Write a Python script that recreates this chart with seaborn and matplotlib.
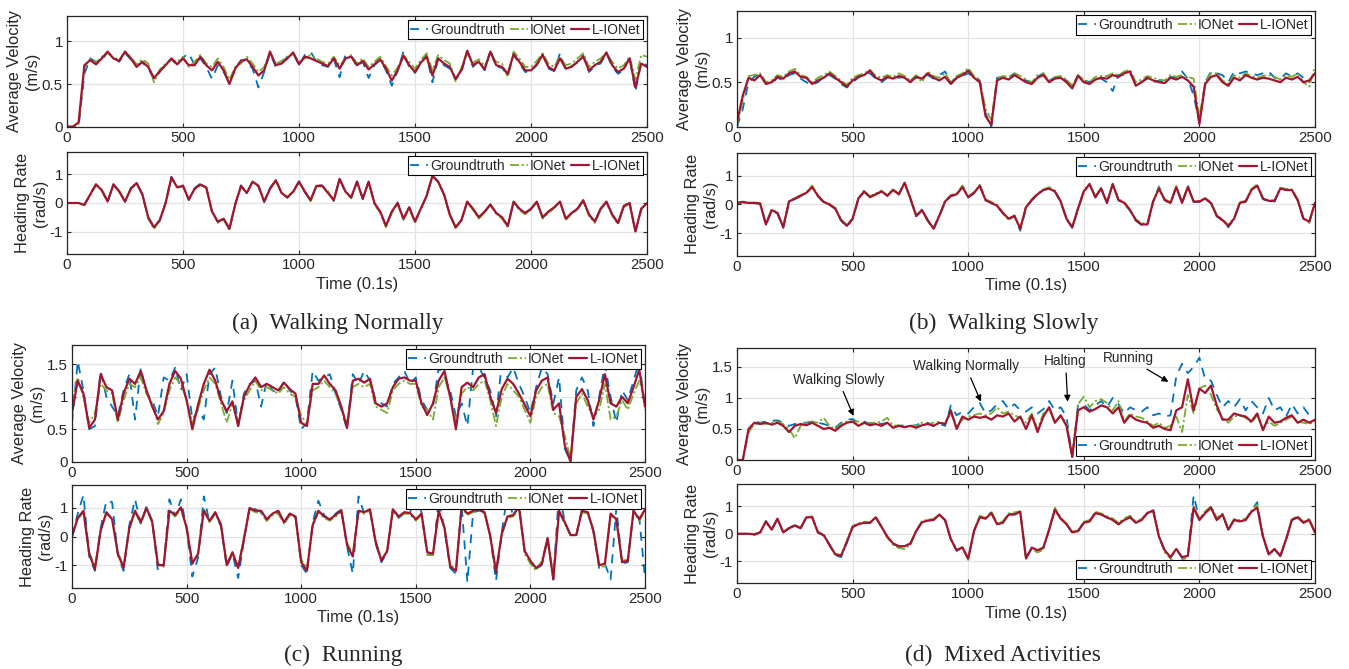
import numpy as np
import pandas as pd
import seaborn as sns
import matplotlib.pyplot as plt

# sampling grid (0.1 s units), values read every 25 samples from the figure
time_steps = list(range(0, 2501, 25))
series_names = ["Groundtruth", "IONet", "L-IONet"]

# (a) Walking Normally
walk_vel_gt = [
    0.00, 0.00, 0.00, 0.62, 0.80, 0.76, 0.78, 0.87, 0.82, 0.76,
    0.86, 0.79, 0.72, 0.75, 0.68, 0.56, 0.64, 0.74, 0.79, 0.72,
    0.81, 0.86, 0.72, 0.80, 0.70, 0.56, 0.72, 0.64, 0.52, 0.67,
    0.78, 0.76, 0.68, 0.46, 0.64, 0.86, 0.70, 0.74, 0.82, 0.86,
    0.72, 0.84, 0.88, 0.76, 0.72, 0.70, 0.79, 0.58, 0.84, 0.83,
    0.70, 0.76, 0.57, 0.72, 0.78, 0.66, 0.48, 0.65, 0.88, 0.70,
    0.63, 0.74, 0.84, 0.52, 0.79, 0.72, 0.68, 0.55, 0.64, 0.88,
    0.70, 0.78, 0.66, 0.90, 0.70, 0.69, 0.60, 0.84, 0.74, 0.64,
    0.65, 0.72, 0.85, 0.68, 0.65, 0.86, 0.66, 0.71, 0.75, 0.84,
    0.64, 0.71, 0.74, 0.86, 0.70, 0.62, 0.66, 0.82, 0.41, 0.76,
    0.72]
walk_vel_ionet = [
    0.00, 0.00, 0.03, 0.70, 0.80, 0.75, 0.82, 0.86, 0.81, 0.79,
    0.86, 0.82, 0.73, 0.79, 0.74, 0.52, 0.67, 0.74, 0.78, 0.76,
    0.82, 0.70, 0.76, 0.84, 0.74, 0.70, 0.80, 0.70, 0.55, 0.70,
    0.74, 0.82, 0.74, 0.64, 0.70, 0.86, 0.74, 0.77, 0.82, 0.85,
    0.76, 0.80, 0.84, 0.80, 0.76, 0.74, 0.82, 0.72, 0.79, 0.84,
    0.74, 0.80, 0.70, 0.76, 0.82, 0.71, 0.60, 0.69, 0.84, 0.76,
    0.68, 0.78, 0.86, 0.66, 0.84, 0.78, 0.74, 0.53, 0.69, 0.86,
    0.75, 0.79, 0.71, 0.85, 0.76, 0.74, 0.58, 0.88, 0.80, 0.70,
    0.70, 0.77, 0.86, 0.74, 0.70, 0.82, 0.72, 0.74, 0.80, 0.86,
    0.70, 0.76, 0.80, 0.86, 0.76, 0.68, 0.72, 0.82, 0.55, 0.84,
    0.82]
walk_vel_lionet = [
    0.00, 0.00, 0.05, 0.72, 0.78, 0.73, 0.80, 0.88, 0.80, 0.77,
    0.88, 0.80, 0.70, 0.76, 0.70, 0.57, 0.65, 0.72, 0.80, 0.73,
    0.80, 0.72, 0.72, 0.82, 0.72, 0.66, 0.76, 0.66, 0.50, 0.68,
    0.77, 0.79, 0.70, 0.60, 0.66, 0.88, 0.72, 0.74, 0.80, 0.87,
    0.73, 0.82, 0.80, 0.77, 0.74, 0.71, 0.80, 0.68, 0.80, 0.82,
    0.72, 0.77, 0.67, 0.73, 0.79, 0.68, 0.54, 0.66, 0.83, 0.72,
    0.64, 0.75, 0.82, 0.60, 0.80, 0.74, 0.70, 0.56, 0.66, 0.89,
    0.72, 0.76, 0.67, 0.88, 0.72, 0.70, 0.62, 0.85, 0.76, 0.66,
    0.66, 0.73, 0.84, 0.70, 0.66, 0.80, 0.68, 0.70, 0.76, 0.82,
    0.66, 0.72, 0.76, 0.87, 0.72, 0.64, 0.68, 0.80, 0.46, 0.74,
    0.70]
walk_head_gt = [
    0.00, 0.00, 0.00, -0.06, 0.32, 0.66, 0.44, 0.03, 0.66, 0.42,
    0.04, 0.52, 0.72, 0.28, -0.52, -0.88, -0.62, 0.02, 0.92, 0.52,
    0.62, 0.10, 0.52, 0.68, 0.56, -0.32, -0.68, -0.56, -0.92, -0.04,
    0.62, 0.33, 0.78, 0.58, 0.03, 0.52, 0.82, 0.33, 0.18, 0.42,
    0.76, 0.38, 0.08, 0.62, 0.62, 0.38, 0.08, 0.86, 0.38, 0.18,
    0.76, 0.13, 0.76, -0.02, -0.32, -0.82, -0.32, 0.02, -0.56, -0.16,
    -0.66, -0.22, 0.26, 0.96, 0.74, 0.28, -0.42, -0.86, -0.62, 0.04,
    -0.22, -0.52, -0.32, -0.06, -0.36, -0.52, -0.82, 0.04, -0.22, -0.36,
    -0.22, 0.03, -0.52, -0.32, -0.16, 0.04, -0.56, -0.36, -0.22, 0.08,
    -0.42, -0.66, -0.22, 0.04, -0.42, -0.72, -0.12, -0.02, -1.02, -0.22,
    0.00]
walk_head_ionet = [
    0.00, 0.00, 0.00, -0.05, 0.28, 0.62, 0.46, 0.08, 0.62, 0.43,
    0.08, 0.48, 0.68, 0.32, -0.55, -0.92, -0.58, -0.02, 0.86, 0.57,
    0.58, 0.14, 0.48, 0.62, 0.53, -0.28, -0.70, -0.58, -0.95, -0.08,
    0.58, 0.37, 0.72, 0.62, 0.07, 0.48, 0.78, 0.36, 0.22, 0.38,
    0.73, 0.42, 0.06, 0.58, 0.58, 0.42, 0.06, 0.82, 0.42, 0.16,
    0.72, 0.17, 0.72, -0.04, -0.35, -0.85, -0.35, -0.03, -0.60, -0.20,
    -0.70, -0.18, 0.22, 0.93, 0.72, 0.32, -0.45, -0.88, -0.65, 0.02,
    -0.25, -0.55, -0.34, -0.08, -0.38, -0.55, -0.85, 0.02, -0.25, -0.40,
    -0.24, 0.02, -0.55, -0.35, -0.18, 0.02, -0.60, -0.38, -0.25, 0.06,
    -0.45, -0.70, -0.25, 0.02, -0.45, -0.75, -0.15, -0.03, -0.98, -0.25,
    -0.02]
walk_head_lionet = [
    0.00, 0.00, 0.00, -0.07, 0.30, 0.65, 0.45, 0.05, 0.65, 0.40,
    0.05, 0.50, 0.70, 0.30, -0.50, -0.85, -0.60, 0.00, 0.90, 0.55,
    0.60, 0.12, 0.50, 0.65, 0.55, -0.30, -0.65, -0.55, -0.90, -0.05,
    0.60, 0.35, 0.75, 0.60, 0.05, 0.50, 0.80, 0.35, 0.20, 0.40,
    0.75, 0.40, 0.10, 0.60, 0.60, 0.35, 0.10, 0.85, 0.40, 0.20,
    0.75, 0.15, 0.75, 0.00, -0.30, -0.80, -0.30, 0.00, -0.55, -0.15,
    -0.65, -0.20, 0.25, 0.95, 0.75, 0.30, -0.40, -0.85, -0.60, 0.05,
    -0.20, -0.50, -0.30, -0.05, -0.35, -0.50, -0.80, 0.05, -0.20, -0.35,
    -0.20, 0.05, -0.50, -0.30, -0.15, 0.05, -0.55, -0.35, -0.20, 0.10,
    -0.40, -0.65, -0.20, 0.05, -0.40, -0.70, -0.10, 0.00, -1.00, -0.20,
    0.00]

# (b) Walking Slowly
slow_vel_gt = [
    0.00, 0.20, 0.50, 0.56, 0.60, 0.50, 0.48, 0.55, 0.52, 0.58,
    0.60, 0.54, 0.50, 0.47, 0.50, 0.56, 0.58, 0.54, 0.48, 0.44,
    0.50, 0.55, 0.60, 0.60, 0.54, 0.50, 0.55, 0.56, 0.55, 0.56,
    0.52, 0.55, 0.56, 0.58, 0.54, 0.58, 0.62, 0.50, 0.54, 0.57,
    0.60, 0.56, 0.52, 0.15, 0.00, 0.55, 0.56, 0.55, 0.60, 0.55,
    0.52, 0.50, 0.56, 0.60, 0.52, 0.55, 0.56, 0.52, 0.45, 0.58,
    0.52, 0.50, 0.55, 0.54, 0.50, 0.40, 0.58, 0.58, 0.60, 0.48,
    0.50, 0.54, 0.50, 0.52, 0.50, 0.56, 0.55, 0.62, 0.54, 0.35,
    0.05, 0.50, 0.62, 0.60, 0.58, 0.50, 0.62, 0.60, 0.62, 0.60,
    0.58, 0.60, 0.62, 0.55, 0.54, 0.60, 0.56, 0.60, 0.55, 0.50,
    0.62]
slow_vel_ionet = [
    0.02, 0.30, 0.57, 0.58, 0.60, 0.50, 0.52, 0.58, 0.56, 0.62,
    0.65, 0.58, 0.56, 0.50, 0.55, 0.58, 0.62, 0.57, 0.52, 0.47,
    0.55, 0.58, 0.60, 0.64, 0.57, 0.55, 0.58, 0.56, 0.60, 0.57,
    0.52, 0.58, 0.50, 0.62, 0.57, 0.55, 0.60, 0.50, 0.57, 0.60,
    0.66, 0.57, 0.53, 0.20, 0.08, 0.54, 0.57, 0.56, 0.60, 0.57,
    0.53, 0.50, 0.58, 0.60, 0.52, 0.56, 0.57, 0.53, 0.46, 0.58,
    0.53, 0.50, 0.56, 0.57, 0.57, 0.60, 0.58, 0.62, 0.64, 0.50,
    0.53, 0.57, 0.55, 0.53, 0.52, 0.58, 0.56, 0.58, 0.56, 0.54,
    0.10, 0.50, 0.60, 0.60, 0.52, 0.48, 0.58, 0.55, 0.60, 0.57,
    0.55, 0.57, 0.58, 0.56, 0.53, 0.58, 0.56, 0.60, 0.50, 0.45,
    0.68]
slow_vel_lionet = [
    0.05, 0.35, 0.55, 0.52, 0.58, 0.48, 0.50, 0.56, 0.54, 0.60,
    0.62, 0.56, 0.55, 0.48, 0.52, 0.55, 0.60, 0.55, 0.50, 0.45,
    0.52, 0.56, 0.58, 0.63, 0.55, 0.52, 0.56, 0.54, 0.57, 0.55,
    0.50, 0.56, 0.54, 0.60, 0.55, 0.52, 0.56, 0.48, 0.55, 0.58,
    0.63, 0.55, 0.50, 0.12, 0.02, 0.52, 0.55, 0.53, 0.58, 0.54,
    0.50, 0.48, 0.55, 0.58, 0.50, 0.54, 0.55, 0.50, 0.43, 0.57,
    0.50, 0.48, 0.53, 0.55, 0.54, 0.58, 0.56, 0.60, 0.62, 0.46,
    0.50, 0.55, 0.52, 0.50, 0.49, 0.55, 0.53, 0.56, 0.52, 0.45,
    0.03, 0.48, 0.56, 0.58, 0.50, 0.46, 0.55, 0.52, 0.58, 0.55,
    0.53, 0.55, 0.54, 0.52, 0.50, 0.55, 0.53, 0.56, 0.50, 0.52,
    0.60]
slow_head_gt = [
    0.04, 0.07, 0.05, 0.04, 0.02, -0.72, -0.22, -0.32, -0.82, 0.08,
    0.18, 0.28, 0.38, 0.62, 0.28, 0.06, -0.02, -0.16, -0.57, -0.78,
    -0.52, 0.18, 0.44, 0.24, 0.34, 0.44, 0.28, 0.52, 0.34, 0.76,
    0.18, -0.42, -0.22, -0.57, -0.88, -0.42, 0.08, 0.28, 0.34, 0.62,
    0.24, 0.38, 0.66, 0.14, 0.04, -0.06, -0.32, -0.52, -0.42, -0.92,
    -0.12, 0.14, 0.34, 0.50, 0.56, 0.44, 0.08, -0.52, -0.82, -0.16,
    0.44, 0.72, 0.24, 0.56, 0.04, 0.72, 0.14, 0.04, -0.22, -0.57,
    -0.72, -0.72, 0.08, 0.62, 0.14, 0.04, 0.62, 0.04, 0.66, 0.08,
    0.08, 0.18, 0.04, -0.42, -0.57, -0.80, -0.52, 0.04, 0.08, 0.50,
    0.66, 0.18, 0.10, 0.10, 0.56, 0.50, 0.48, 0.14, -0.52, -0.64,
    0.04]
slow_head_ionet = [
    0.06, 0.10, 0.06, 0.06, 0.05, -0.66, -0.18, -0.28, -0.78, 0.12,
    0.22, 0.32, 0.42, 0.66, 0.32, 0.10, 0.02, -0.12, -0.52, -0.72,
    -0.48, 0.22, 0.48, 0.28, 0.38, 0.48, 0.32, 0.52, 0.38, 0.76,
    0.22, -0.38, -0.18, -0.60, -0.82, -0.38, 0.12, 0.32, 0.38, 0.66,
    0.28, 0.42, 0.68, 0.18, 0.08, -0.02, -0.28, -0.56, -0.38, -0.82,
    -0.08, 0.18, 0.38, 0.52, 0.60, 0.48, 0.12, -0.48, -0.78, -0.12,
    0.48, 0.72, 0.28, 0.58, 0.08, 0.72, 0.18, 0.08, -0.18, -0.52,
    -0.66, -0.66, 0.12, 0.60, 0.18, 0.08, 0.64, 0.08, 0.62, 0.12,
    0.12, 0.22, 0.08, -0.38, -0.52, -0.72, -0.48, 0.08, 0.12, 0.54,
    0.70, 0.22, 0.14, 0.14, 0.58, 0.54, 0.52, 0.18, -0.48, -0.64,
    0.06]
slow_head_lionet = [
    0.05, 0.08, 0.05, 0.05, 0.03, -0.70, -0.20, -0.30, -0.80, 0.10,
    0.20, 0.30, 0.40, 0.60, 0.30, 0.08, 0.00, -0.15, -0.55, -0.75,
    -0.50, 0.20, 0.45, 0.25, 0.35, 0.45, 0.30, 0.50, 0.35, 0.75,
    0.20, -0.40, -0.20, -0.55, -0.85, -0.40, 0.10, 0.30, 0.35, 0.60,
    0.25, 0.40, 0.65, 0.15, 0.05, -0.05, -0.30, -0.50, -0.40, -0.85,
    -0.10, 0.15, 0.35, 0.50, 0.55, 0.45, 0.10, -0.50, -0.80, -0.15,
    0.45, 0.70, 0.25, 0.55, 0.05, 0.70, 0.15, 0.05, -0.20, -0.55,
    -0.70, -0.70, 0.10, 0.55, 0.15, 0.05, 0.60, 0.05, 0.60, 0.10,
    0.10, 0.20, 0.05, -0.40, -0.55, -0.75, -0.50, 0.05, 0.10, 0.50,
    0.65, 0.20, 0.12, 0.12, 0.55, 0.50, 0.50, 0.15, -0.50, -0.60,
    0.05]

# (c) Running
run_vel_gt = [
    0.60, 1.55, 1.10, 0.50, 0.55, 1.40, 1.00, 0.85, 0.70, 1.10,
    1.35, 0.65, 1.45, 1.05, 0.95, 0.70, 1.30, 1.25, 1.45, 1.10,
    1.35, 0.65, 0.80, 0.65, 1.35, 1.45, 1.00, 0.75, 1.25, 0.55,
    1.05, 1.20, 1.25, 0.85, 1.25, 1.10, 1.05, 1.25, 1.10, 1.00,
    0.50, 0.60, 1.40, 1.25, 1.30, 1.35, 1.05, 0.80, 0.50, 1.35,
    1.20, 1.40, 1.25, 0.95, 0.90, 0.85, 1.20, 1.30, 1.40, 1.20,
    1.30, 0.95, 0.80, 0.85, 1.45, 1.30, 1.10, 0.70, 0.90, 0.55,
    1.45, 1.45, 1.30, 1.10, 0.70, 1.50, 1.30, 1.45, 1.20, 1.00,
    0.75, 1.15, 1.45, 1.35, 0.90, 1.30, 0.20, 0.00, 1.10, 1.30,
    1.10, 0.55, 1.00, 1.50, 1.00, 0.60, 1.10, 0.95, 1.25, 1.55,
    0.80]
run_vel_ionet = [
    0.90, 1.30, 1.00, 0.60, 0.75, 1.20, 1.10, 1.05, 0.60, 0.95,
    1.20, 1.15, 1.30, 1.05, 0.90, 0.58, 0.75, 1.10, 1.30, 1.20,
    0.95, 0.60, 0.82, 1.10, 1.30, 1.20, 0.90, 0.60, 0.90, 0.62,
    0.95, 1.10, 1.25, 1.10, 1.15, 1.10, 1.05, 1.15, 1.05, 1.00,
    0.70, 0.60, 1.10, 1.15, 1.25, 1.15, 1.05, 0.80, 0.60, 1.15,
    1.20, 1.15, 1.20, 0.85, 0.80, 0.75, 1.10, 1.20, 1.25, 1.20,
    1.20, 0.85, 0.80, 0.65, 1.15, 1.30, 1.00, 0.62, 1.05, 1.15,
    1.10, 1.20, 1.25, 0.95, 0.55, 1.00, 1.20, 1.10, 1.00, 0.80,
    0.60, 1.00, 1.15, 1.20, 0.75, 0.70, 0.40, 0.05, 0.90, 1.05,
    0.85, 0.70, 0.80, 1.20, 0.65, 0.70, 0.95, 0.80, 1.05, 1.25,
    0.95]
run_vel_lionet = [
    0.75, 1.25, 1.05, 0.52, 0.65, 1.35, 1.15, 1.10, 0.65, 1.05,
    1.28, 1.20, 1.40, 1.10, 0.85, 0.65, 0.78, 1.20, 1.40, 1.28,
    0.95, 0.50, 0.88, 1.20, 1.42, 1.25, 0.95, 0.78, 0.93, 0.55,
    1.00, 1.18, 1.30, 1.15, 1.20, 1.15, 1.10, 1.22, 1.12, 1.05,
    0.60, 0.55, 1.20, 1.20, 1.33, 1.20, 1.10, 0.85, 0.52, 1.25,
    1.28, 1.22, 1.28, 0.90, 0.85, 0.90, 1.15, 1.28, 1.30, 1.25,
    1.25, 0.90, 0.72, 0.90, 1.25, 1.40, 1.00, 0.50, 1.15, 1.22,
    1.15, 1.30, 1.35, 1.00, 0.75, 1.12, 1.28, 1.20, 1.05, 0.88,
    0.70, 1.10, 1.25, 1.30, 0.80, 0.90, 0.25, 0.00, 1.00, 1.12,
    0.95, 0.65, 0.95, 1.35, 0.90, 0.85, 1.00, 0.90, 1.15, 1.42,
    0.85]
run_head_gt = [
    0.00, 0.80, 1.45, -0.70, -1.20, 0.30, 1.25, 1.20, -0.65, -1.20,
    0.40, 1.30, 0.45, 1.05, 0.55, -1.20, -1.05, 1.30, 0.70, 1.30,
    0.30, -1.40, -0.75, 1.40, 0.50, 0.80, 0.35, -1.05, -0.60, -1.45,
    -0.15, 1.05, 0.95, 0.85, 0.55, 0.85, 0.85, 0.45, 0.75, 0.75,
    -1.00, -1.30, 0.50, 1.25, 0.75, 0.55, 0.80, 0.95, -0.35, -1.30,
    1.40, 0.80, 0.90, -0.25, -0.90, -0.55, 0.95, 0.65, 0.80, 0.85,
    1.50, 0.85, -0.60, -0.65, 1.30, 0.25, -1.10, -1.30, 1.10, -1.60,
    0.85, 0.90, 0.85, 0.00, -1.55, 0.15, 1.50, 0.70, 1.10, -0.55,
    -0.90, -1.15, -1.00, -0.10, -1.50, 1.60, 0.50, 0.05, 0.05, 0.95,
    0.85, 0.15, -1.10, -0.95, -1.50, 1.00, -0.95, -0.90, 0.95, 0.65,
    -1.45]
run_head_ionet = [
    0.05, 0.60, 0.85, -0.55, -1.05, 0.25, 0.80, 0.65, -0.55, -1.05,
    0.25, 0.85, 0.45, 0.95, 0.55, -0.95, -1.05, 0.85, 0.70, 0.95,
    0.35, -0.90, -0.65, 0.95, 0.50, 0.80, 0.45, -0.95, -0.60, -1.05,
    -0.05, 0.95, 0.85, 0.80, 0.55, 0.75, 0.80, 0.45, 0.75, 0.65,
    -0.80, -1.10, 0.35, 0.85, 0.65, 0.55, 0.70, 0.85, -0.20, -0.65,
    0.85, 0.80, 0.90, -0.15, -0.80, -0.55, 0.90, 0.65, 0.80, 0.78,
    0.55, 0.75, -0.65, -0.65, 0.85, 0.35, -1.00, -1.15, 1.00, 0.75,
    0.85, 0.90, 0.80, 0.05, -1.20, 0.05, 0.65, 0.70, 1.00, -0.60,
    -0.95, -1.20, -0.85, -0.10, -1.35, 0.85, 0.45, 0.05, 0.05, 0.85,
    0.80, 0.25, -1.05, -1.05, 0.75, 0.55, -0.85, -0.80, 0.85, 0.55,
    0.90]
run_head_lionet = [
    0.00, 0.65, 0.90, -0.60, -1.15, 0.20, 0.85, 0.60, -0.60, -1.10,
    0.30, 0.90, 0.50, 1.00, 0.50, -1.00, -1.00, 0.90, 0.75, 1.02,
    0.30, -0.95, -0.60, 0.90, 0.55, 0.85, 0.40, -1.00, -0.55, -1.10,
    -0.10, 1.00, 0.90, 0.90, 0.60, 0.80, 0.90, 0.50, 0.80, 0.70,
    -0.90, -1.20, 0.40, 0.90, 0.70, 0.60, 0.75, 0.92, -0.30, -0.70,
    0.90, 0.85, 0.95, -0.20, -0.85, -0.50, 0.95, 0.70, 0.85, 0.82,
    0.60, 0.80, -0.55, -0.60, 0.90, 0.30, -1.05, -1.20, 1.05, 0.80,
    0.90, 0.95, 0.85, 0.00, -1.25, 0.10, 0.70, 0.75, 1.05, -0.50,
    -0.85, -1.10, -0.95, -0.05, -1.50, 0.90, 0.50, 0.05, 0.05, 0.90,
    0.85, 0.20, -1.00, -0.95, 0.80, 0.60, -0.90, -0.85, 0.90, 0.60,
    0.95]

# (d) Mixed Activities
mixed_vel_gt = [
    0.00, 0.00, 0.45, 0.62, 0.60, 0.62, 0.63, 0.64, 0.60, 0.55,
    0.58, 0.60, 0.60, 0.62, 0.60, 0.58, 0.55, 0.52, 0.60, 0.65,
    0.66, 0.60, 0.62, 0.58, 0.60, 0.58, 0.60, 0.55, 0.55, 0.56,
    0.55, 0.56, 0.60, 0.60, 0.55, 0.58, 0.55, 0.88, 0.72, 0.78,
    0.75, 0.85, 0.92, 0.75, 0.80, 0.90, 0.95, 0.82, 0.90, 0.80,
    0.78, 0.85, 0.75, 0.82, 0.95, 0.80, 0.85, 0.70, 0.05, 0.88,
    0.90, 0.80, 0.88, 0.95, 0.85, 1.00, 0.90, 0.75, 0.85, 0.80,
    0.78, 0.85, 0.72, 0.75, 0.70, 0.72, 1.35, 1.55, 1.40, 1.50,
    1.65, 1.30, 1.28, 1.05, 0.85, 0.95, 0.85, 0.98, 0.80, 0.95,
    0.85, 0.75, 1.00, 0.80, 0.85, 0.70, 0.90, 0.75, 0.85, 0.72,
    0.75]
mixed_vel_ionet = [
    0.00, 0.00, 0.45, 0.58, 0.60, 0.58, 0.60, 0.62, 0.58, 0.50,
    0.35, 0.55, 0.60, 0.62, 0.60, 0.68, 0.55, 0.50, 0.58, 0.62,
    0.62, 0.62, 0.58, 0.60, 0.60, 0.62, 0.68, 0.55, 0.56, 0.52,
    0.55, 0.55, 0.60, 0.58, 0.60, 0.62, 0.58, 0.75, 0.55, 0.65,
    0.70, 0.72, 0.75, 0.72, 0.75, 0.85, 0.75, 0.78, 0.72, 0.68,
    0.60, 0.75, 0.50, 0.75, 0.82, 0.62, 0.70, 0.60, 0.05, 0.90,
    1.02, 0.85, 0.95, 0.98, 0.92, 0.80, 0.95, 0.62, 0.75, 0.70,
    0.68, 0.62, 0.55, 0.60, 0.52, 0.55, 0.70, 0.45, 1.05, 0.75,
    1.15, 1.20, 1.05, 0.82, 0.68, 0.60, 0.70, 0.72, 0.68, 0.60,
    0.72, 0.50, 0.62, 0.55, 0.60, 0.65, 0.70, 0.62, 0.60, 0.58,
    0.62]
mixed_vel_lionet = [
    0.00, 0.00, 0.50, 0.60, 0.58, 0.60, 0.57, 0.60, 0.55, 0.45,
    0.55, 0.58, 0.56, 0.60, 0.55, 0.50, 0.52, 0.47, 0.55, 0.60,
    0.62, 0.55, 0.60, 0.56, 0.58, 0.55, 0.60, 0.52, 0.55, 0.53,
    0.55, 0.52, 0.56, 0.58, 0.55, 0.60, 0.58, 0.80, 0.50, 0.70,
    0.65, 0.70, 0.68, 0.70, 0.65, 0.72, 0.70, 0.75, 0.62, 0.70,
    0.50, 0.72, 0.45, 0.70, 0.85, 0.60, 0.72, 0.55, 0.05, 0.80,
    0.85, 0.78, 0.82, 0.88, 0.85, 0.75, 0.85, 0.60, 0.72, 0.65,
    0.62, 0.60, 0.52, 0.55, 0.50, 0.48, 0.80, 0.85, 1.30, 0.80,
    1.15, 1.08, 1.20, 0.88, 0.65, 0.65, 0.75, 0.72, 0.70, 0.62,
    0.75, 0.48, 0.70, 0.60, 0.62, 0.68, 0.72, 0.60, 0.65, 0.60,
    0.65]
mixed_head_gt = [
    0.00, 0.00, 0.00, -0.03, 0.04, 0.46, 0.14, 0.56, 0.04, 0.21,
    0.31, 0.19, 0.62, 0.62, 0.04, -0.06, -0.42, -0.78, -0.85, -0.32,
    0.24, 0.36, 0.42, 0.38, 0.62, 0.24, -0.12, -0.36, -0.48, -0.46,
    -0.38, 0.08, 0.44, 0.48, 0.52, 0.72, 0.48, -0.22, -0.62, -0.52,
    -0.92, 0.08, 0.62, 0.56, 0.78, 0.34, 0.42, 0.72, 0.72, 0.84,
    -0.92, -0.52, -0.62, -0.52, 0.14, 0.90, 0.56, 0.36, 0.04, 0.08,
    0.42, 0.46, 0.78, 0.72, 0.58, 0.52, 0.34, 0.52, 0.62, 0.42,
    0.52, 0.76, 0.88, -0.12, -0.62, -0.88, -0.56, -0.88, -0.82, 1.40,
    0.52, 0.78, 0.98, 0.52, 0.72, 0.14, 0.52, 0.46, 0.52, 0.82,
    1.15, -0.12, -0.78, -0.56, -0.84, -0.22, 0.52, 0.62, 0.42, 0.52,
    0.04]
mixed_head_ionet = [
    0.00, 0.00, 0.00, -0.04, 0.06, 0.42, 0.18, 0.52, 0.08, 0.22,
    0.32, 0.24, 0.58, 0.64, 0.08, -0.02, -0.38, -0.72, -0.78, -0.26,
    0.28, 0.38, 0.44, 0.42, 0.58, 0.28, -0.14, -0.40, -0.52, -0.55,
    -0.40, 0.12, 0.46, 0.52, 0.54, 0.68, 0.52, -0.18, -0.58, -0.48,
    -0.95, 0.12, 0.66, 0.58, 0.82, 0.38, 0.46, 0.74, 0.78, 0.82,
    -0.85, -0.55, -0.68, -0.58, 0.18, 0.95, 0.58, 0.38, 0.08, 0.12,
    0.44, 0.50, 0.80, 0.74, 0.64, 0.56, 0.40, 0.56, 0.66, 0.44,
    0.54, 0.78, 0.82, -0.08, -0.68, -0.90, -1.15, -0.95, -0.85, 1.00,
    0.55, 0.82, 1.00, 0.58, 0.74, 0.18, 0.54, 0.50, 0.55, 0.84,
    1.05, -0.08, -0.72, -0.58, -0.82, -0.18, 0.55, 0.64, 0.44, 0.55,
    0.06]
mixed_head_lionet = [
    0.00, 0.00, 0.00, -0.02, 0.05, 0.45, 0.15, 0.55, 0.05, 0.20,
    0.30, 0.20, 0.60, 0.60, 0.05, -0.05, -0.40, -0.75, -0.80, -0.30,
    0.25, 0.35, 0.40, 0.40, 0.60, 0.25, -0.10, -0.35, -0.45, -0.45,
    -0.35, 0.10, 0.42, 0.48, 0.50, 0.70, 0.50, -0.20, -0.60, -0.50,
    -0.90, 0.10, 0.60, 0.55, 0.75, 0.35, 0.40, 0.70, 0.70, 0.80,
    -0.90, -0.50, -0.60, -0.50, 0.15, 0.88, 0.55, 0.35, 0.05, 0.10,
    0.40, 0.45, 0.75, 0.70, 0.60, 0.50, 0.35, 0.50, 0.60, 0.40,
    0.50, 0.75, 0.85, -0.10, -0.60, -0.85, -0.55, -0.85, -0.80, 0.95,
    0.50, 0.75, 0.95, 0.50, 0.70, 0.15, 0.50, 0.45, 0.50, 0.80,
    0.95, -0.10, -0.75, -0.55, -0.80, -0.20, 0.50, 0.60, 0.40, 0.50,
    0.05]

captions = ["(a)  Walking Normally", "(b)  Walking Slowly", "(c)  Running", "(d)  Mixed Activities"]

colors = {"Groundtruth": "#0072BD", "IONet": "#77AC30", "L-IONet": "#A2142F"}
styles = {"Groundtruth": (0, (5, 4)), "IONet": (0, (5, 1.5, 1.2, 1.5)), "L-IONet": "-"}
widths = {"Groundtruth": 1.3, "IONet": 1.3, "L-IONet": 1.6}

sns.set_theme(style="ticks")
plt.rcParams['font.family'] = ['Liberation Sans', 'DejaVu Sans']
plt.rcParams['axes.unicode_minus'] = False
plt.rcParams['xtick.direction'] = 'in'
plt.rcParams['ytick.direction'] = 'in'
plt.rcParams['xtick.top'] = True
plt.rcParams['ytick.right'] = True

W, H = 1349, 669
fig = plt.figure(figsize=(W / 100, H / 100), dpi=100)


def rect(left, right, top, bottom):
    return [left / W, 1 - bottom / H, (right - left) / W, (bottom - top) / H]


def draw_panel(box, gt, ionet, lionet, kind, legend_loc, xlabel=False):
    ax = fig.add_axes(rect(*box))
    for vals in (gt, ionet, lionet):
        assert len(vals) == len(time_steps)
    df = pd.DataFrame({"t": time_steps, "Groundtruth": gt, "IONet": ionet, "L-IONet": lionet})
    for name in series_names:
        sns.lineplot(x=df["t"], y=df[name], ax=ax, color=colors[name], linestyle=styles[name],
                     lw=widths[name], label=name, estimator=None, errorbar=None)
    ax.set_xlim(0, 2500)
    ax.set_xticks([0, 500, 1000, 1500, 2000, 2500])
    if kind == "vel_low":
        ax.set_ylim(0, 1.3)
        ax.set_yticks([0, 0.5, 1])
        ax.set_yticklabels(["0", "0.5", "1"])
        ylabel = "Average Velocity\n(m/s)"
    elif kind == "vel_high":
        ax.set_ylim(0, 1.8)
        ax.set_yticks([0, 0.5, 1, 1.5])
        ax.set_yticklabels(["0", "0.5", "1", "1.5"])
        ylabel = "Average Velocity\n(m/s)"
    else:
        ax.set_ylim(-1.8, 1.8)
        ax.set_yticks([-1, 0, 1])
        ax.set_yticklabels(["-1", "0", "1"])
        ylabel = "Heading Rate\n(rad/s)"
    ax.set_ylabel(ylabel, fontsize=11.8, color="#262626", labelpad=1, linespacing=1.25)
    ax.set_xlabel("Time (0.1s)" if xlabel else "", fontsize=11.8, color="#262626", labelpad=3)
    ax.grid(True, color="#e3e3e3", lw=0.9)
    ax.tick_params(labelsize=10.8, colors="#262626", length=3, width=0.8, pad=3)
    for sp in ax.spines.values():
        sp.set_color("#262626")
        sp.set_linewidth(0.9)
    ax.legend(loc=legend_loc, ncol=3, fontsize=10, frameon=True, fancybox=False,
              edgecolor="black", framealpha=1, handlelength=1.3, handletextpad=0.15,
              columnspacing=0.35, borderpad=0.2, borderaxespad=0.3)
    ax.get_legend().get_frame().set_linewidth(0.8)
    return ax


draw_panel((67, 647, 15.7, 126.7), walk_vel_gt, walk_vel_ionet, walk_vel_lionet, "vel_low", "upper right")
draw_panel((67, 647, 151.7, 254.3), walk_head_gt, walk_head_ionet, walk_head_lionet, "head", "upper right", True)
draw_panel((737, 1315, 11, 126.7), slow_vel_gt, slow_vel_ionet, slow_vel_lionet, "vel_low", "upper right")
draw_panel((737, 1315, 152.7, 256), slow_head_gt, slow_head_ionet, slow_head_lionet, "head", "upper right", True)
draw_panel((72, 645, 345, 461.7), run_vel_gt, run_vel_ionet, run_vel_lionet, "vel_high", "upper right")
draw_panel((72, 645, 485, 588), run_head_gt, run_head_ionet, run_head_lionet, "head", "upper right", True)
ax_mix = draw_panel((737, 1315, 348.3, 460), mixed_vel_gt, mixed_vel_ionet, mixed_vel_lionet, "vel_high", "lower right")
draw_panel((737, 1315, 484.3, 583.3), mixed_head_gt, mixed_head_ionet, mixed_head_lionet, "head", "lower right", True)

arrow = dict(arrowstyle="-|>", color="black", lw=0.9, mutation_scale=9, shrinkA=1, shrinkB=0)
ax_mix.annotate("Walking Slowly", xy=(504, 0.71), xytext=(438, 1.29), ha="center", va="center",
                fontsize=9.8, arrowprops=arrow)
ax_mix.annotate("Walking Normally", xy=(1055, 0.94), xytext=(989, 1.51), ha="center", va="center",
                fontsize=9.8, arrowprops=arrow)
ax_mix.annotate("Halting", xy=(1430, 0.94), xytext=(1421, 1.59), ha="center", va="center",
                fontsize=9.8, arrowprops=arrow)
ax_mix.annotate("Running", xy=(1866, 1.26), xytext=(1692, 1.64), ha="center", va="center",
                fontsize=9.8, arrowprops=arrow)

caption_pos = [(338, 323), (1004, 323), (343, 655), (1003, 655)]
for text, (cx, cy) in zip(captions, caption_pos):
    fig.text(cx / W, 1 - cy / H, text, ha="center", va="center", fontsize=16.8,
             family=["Liberation Serif", "DejaVu Serif"])

fig.savefig("out.png", dpi=100)
